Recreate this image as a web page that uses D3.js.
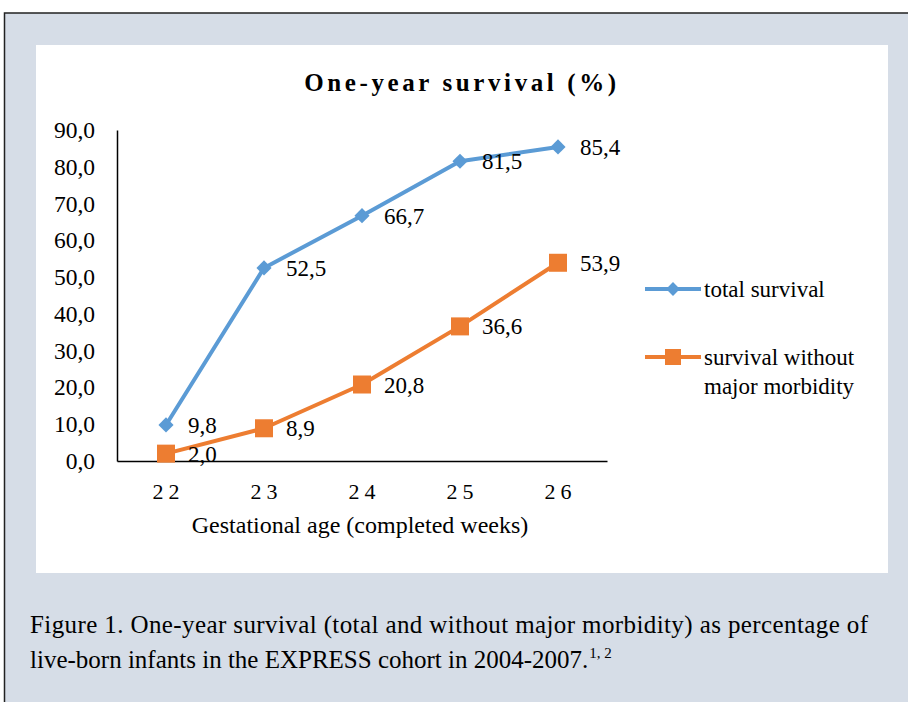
<!DOCTYPE html>
<html><head><meta charset="utf-8">
<script src="https://cdn.jsdelivr.net/npm/d3@7"></script>
<style>
html,body{margin:0;padding:0;background:#fff;}
svg{display:block;}
text{font-family:"Liberation Serif","Times New Roman",serif;fill:#000;}
</style></head>
<body>
<svg id="c" width="908" height="702"></svg>
<script>
const categories = ["22","23","24","25","26"];
const totalSurvival = [9.8, 52.5, 66.7, 81.5, 85.4];
const withoutMorbidity = [2.0, 8.9, 20.8, 36.6, 53.9];
const yTicks = [0,10,20,30,40,50,60,70,80,90];
const seriesNames = ["total survival", "survival without", "major morbidity"];
const titleText = "One-year survival (%)";
const xTitle = "Gestational age (completed weeks)";
const captionLine1 = "Figure 1. One-year survival (total and without major morbidity) as percentage of";
const captionLine2 = "live-born infants in the EXPRESS cohort in 2004-2007.";
const captionSup = "1, 2";

const svg = d3.select("#c");
const blue = "#5b9bd5", orange = "#ed7d31";

// frame
svg.append("rect").attr("x",4.5).attr("y",13).attr("width",920).attr("height",720)
  .attr("fill","#d6dde7").attr("stroke","#222").attr("stroke-width",1.5);
svg.append("rect").attr("x",36).attr("y",45).attr("width",852).attr("height",528).attr("fill","#fff");

const fmt = v => d3.format(".1f")(v).replace(".", ",");

const x = d3.scaleBand().domain(categories).range([117, 607]);
const y = d3.scaleLinear().domain([0,90]).range([461,130]);

// title
svg.append("text").attr("x",462).attr("y",91).attr("text-anchor","middle")
  .attr("font-size",25).attr("font-weight","bold").attr("letter-spacing","3.6px").text(titleText);

// y axis
const yAxis = svg.append("g").attr("transform","translate(117,0)")
  .call(d3.axisLeft(y).tickValues(yTicks).tickSize(0).tickPadding(22).tickFormat(fmt));
yAxis.select(".domain").attr("stroke","#000").attr("stroke-width",1.5);
yAxis.selectAll("text").attr("font-size",23.5).attr("font-family","Liberation Serif").attr("fill","#000");

// x axis
const xAxis = svg.append("g").attr("transform","translate(0,461)")
  .call(d3.axisBottom(x).tickSize(0).tickPadding(22));
xAxis.select(".domain").attr("stroke","#000").attr("stroke-width",1.5);
xAxis.selectAll("text").attr("font-size",22).attr("font-family","Liberation Serif").attr("fill","#000")
  .attr("letter-spacing","5px").attr("dx","2.5");

svg.append("text").attr("x",360).attr("y",533).attr("text-anchor","middle").attr("font-size",24)
  .text(xTitle);

const cx = d => x(d) + x.bandwidth()/2;
const line = d3.line().x((d,i)=>cx(categories[i])).y(d=>y(d));

// orange series
svg.append("path").datum(withoutMorbidity).attr("d",line).attr("fill","none")
  .attr("stroke",orange).attr("stroke-width",4).attr("stroke-linejoin","round");
svg.selectAll(".sq").data(withoutMorbidity).join("rect")
  .attr("x",(d,i)=>cx(categories[i])-9).attr("y",d=>y(d)-9)
  .attr("width",18).attr("height",18).attr("fill",orange);

// blue series
svg.append("path").datum(totalSurvival).attr("d",line).attr("fill","none")
  .attr("stroke",blue).attr("stroke-width",4).attr("stroke-linejoin","round");
svg.selectAll(".dm").data(totalSurvival).join("path")
  .attr("transform",(d,i)=>`translate(${cx(categories[i])},${y(d)}) rotate(45)`)
  .attr("d", d3.symbol().type(d3.symbolSquare).size(115)).attr("fill",blue);

// labels
function labels(arr){
  svg.selectAll(null).data(arr).join("text")
    .attr("x",(d,i)=>cx(categories[i])+22).attr("y",d=>y(d)+8)
    .attr("font-size",23).text(fmt);
}
labels(totalSurvival);
labels(withoutMorbidity);

// legend
svg.append("line").attr("x1",645).attr("x2",701).attr("y1",289).attr("y2",289).attr("stroke",blue).attr("stroke-width",4);
svg.append("path").attr("transform","translate(673,289) rotate(45)").attr("d",d3.symbol().type(d3.symbolSquare).size(95)).attr("fill",blue);
svg.append("line").attr("x1",645).attr("x2",701).attr("y1",357).attr("y2",357).attr("stroke",orange).attr("stroke-width",4);
svg.append("rect").attr("x",665).attr("y",349).attr("width",16).attr("height",16).attr("fill",orange);
const legText = svg.append("g").attr("font-size",23);
legText.append("text").attr("x",704).attr("y",297).text(seriesNames[0]);
legText.append("text").attr("x",704).attr("y",365).text(seriesNames[1]);
legText.append("text").attr("x",704).attr("y",394).text(seriesNames[2]);

// caption
svg.append("text").attr("x",30).attr("y",633).attr("font-size",25)
  .attr("textLength",838).attr("lengthAdjust","spacing").text(captionLine1);
const c2 = svg.append("text").attr("x",30).attr("y",668).attr("font-size",25).text(captionLine2);
c2.append("tspan").attr("font-size",15).attr("dy",-10).attr("dx",1).text(captionSup);
</script>
</body></html>
